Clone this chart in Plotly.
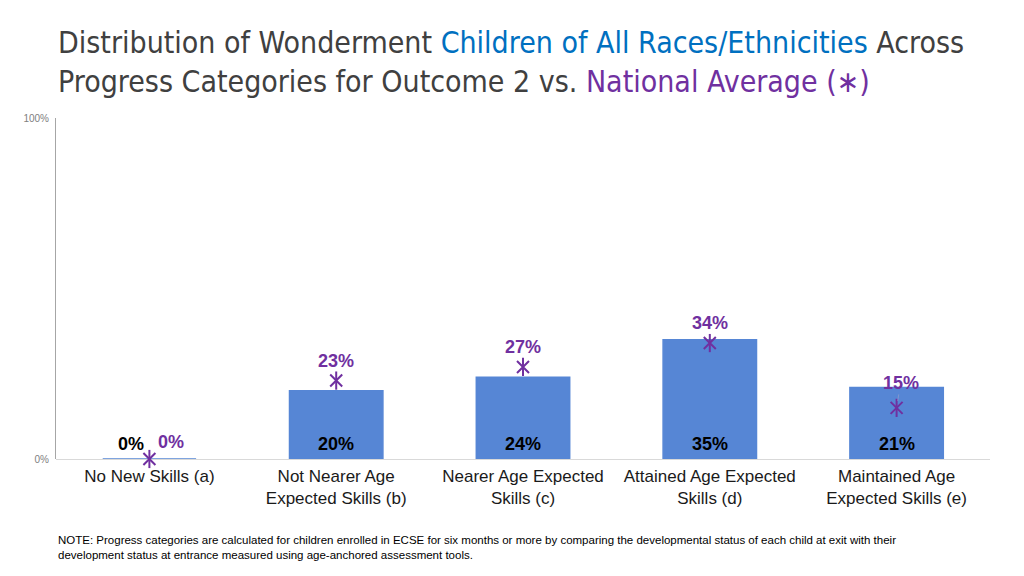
import plotly.graph_objects as go

categories = ["No New Skills (a)", "Not Nearer Age<br>Expected Skills (b)", "Nearer Age Expected<br>Skills (c)",
              "Attained Age Expected<br>Skills (d)", "Maintained Age<br>Expected Skills (e)"]
state_values = [0, 20, 24, 35, 21]
national_values = [0, 23, 27, 34, 15]
y_ticks = [0, 100]
y_tick_labels = ["0%", "100%"]

BLUE = "#5686D5"
PURPLE = "#7030A0"
FONT = "Liberation Sans, Arial, sans-serif"

W, H = 1024, 576
ML, MR, MT, MB = 56, 34, 118, 117
PW, PH = W - ML - MR, H - MT - MB


def px_x(p):
    return (p - ML) / PW


def px_y(p):
    return (H - MB - p) / PH


x = list(range(len(categories)))

fig = go.Figure()
fig.add_trace(go.Bar(x=x, y=state_values, marker=dict(color=BLUE, line=dict(color=BLUE, width=1.5)),
                     width=0.5, hoverinfo="skip"))
fig.add_trace(go.Scatter(x=x, y=national_values, mode="markers",
                         marker=dict(symbol="x-thin-open", size=12, color=PURPLE,
                                     line=dict(color=PURPLE, width=2)),
                         hoverinfo="skip", cliponaxis=False))
fig.add_trace(go.Scatter(x=x, y=national_values, mode="markers",
                         marker=dict(symbol="line-ns-open", size=13, color=PURPLE,
                                     line=dict(color=PURPLE, width=2)),
                         hoverinfo="skip", cliponaxis=False))

annotations = []
state_xshift = [-18, 0, 0, 0, 0]
for i, v in enumerate(state_values):
    annotations.append(dict(x=i, y=0, xref="x", yref="y", text=f"<b>{v}%</b>", showarrow=False,
                            yanchor="bottom", yshift=3, xshift=state_xshift[i],
                            font=dict(family=FONT, size=18, color="#000000")))
for i, v in enumerate(national_values):
    if i == 0:
        annotations.append(dict(x=i, y=v, xref="x", yref="y", text=f"<b>{v}%</b>", showarrow=False,
                                yanchor="bottom", yshift=5, xshift=22,
                                font=dict(family=FONT, size=18, color=PURPLE)))
    elif i == 4:
        annotations.append(dict(x=i, y=v, xref="x", yref="y", text=f"<b>{v}%</b>", showarrow=True,
                                arrowhead=0, arrowwidth=0.6, arrowcolor="#A0A0C8", ax=4, ay=-25,
                                standoff=7, startstandoff=0,
                                font=dict(family=FONT, size=18, color=PURPLE)))
    else:
        annotations.append(dict(x=i, y=v, xref="x", yref="y", text=f"<b>{v}%</b>", showarrow=False,
                                yanchor="bottom", yshift=8,
                                font=dict(family=FONT, size=18, color=PURPLE)))

title_text = ("Distribution of Wonderment <span style='color:#0070C0'>Children of All Races/Ethnicities</span> Across<br>"
              "Progress Categories for Outcome 2 vs. <span style='color:#7030A0'>National Average (\u2217)</span>")
annotations.append(dict(x=px_x(56), y=px_y(23), xref="paper", yref="paper", text=title_text,
                        showarrow=False, xanchor="left", yanchor="top", align="left",
                        font=dict(family="Liberation Sans Narrow, DejaVu Sans Condensed, sans-serif",
                                  size=30, color="#404040")))
note = ("NOTE: Progress categories are calculated for children enrolled in ECSE for six months or more by comparing "
        "the developmental status of each child at exit with their<br>development status at entrance measured using "
        "age-anchored assessment tools.")
annotations.append(dict(x=px_x(56), y=px_y(532), xref="paper", yref="paper", text=note,
                        showarrow=False, xanchor="left", yanchor="top", align="left",
                        font=dict(family="Liberation Sans Narrow, sans-serif", size=11.5, color="#000000")))

fig.update_layout(
    width=W, height=H,
    margin=dict(l=ML, r=MR, t=MT, b=MB, autoexpand=False),
    paper_bgcolor="white", plot_bgcolor="white",
    showlegend=False,
    annotations=annotations,
    xaxis=dict(tickmode="array", tickvals=x, ticktext=categories, range=[-0.5, 4.5],
               showgrid=False, zeroline=False, showline=False, ticks="",
               tickfont=dict(family=FONT, size=17, color="#1a1a1a"), ticklabelstandoff=5),
    yaxis=dict(range=[0, 100], tickvals=y_ticks, ticktext=y_tick_labels,
               showgrid=True, gridcolor="#E6E6E6", gridwidth=1,
               zeroline=True, zerolinecolor="#D9D9D9", zerolinewidth=1,
               showline=True, linecolor="#A6A6A6", linewidth=1, ticks="",
               tickfont=dict(family=FONT, size=10, color="#808080"), ticklabelstandoff=4),
)

fig.write_html("out.html", config={"displayModeBar": False},
               post_script="document.body.style.margin='0';document.body.style.overflow='hidden';")
